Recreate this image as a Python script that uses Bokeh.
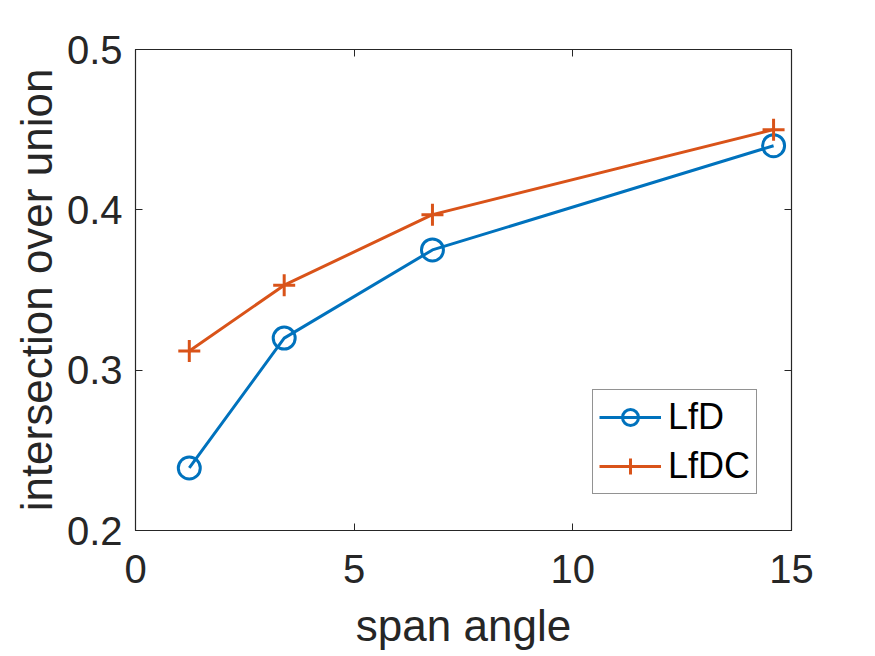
from bokeh.plotting import figure
from bokeh.models import Range1d, LinearAxis, FixedTicker, Legend, LegendItem, CustomJSTickFormatter
from bokeh.embed import file_html
from bokeh.resources import INLINE

span_angle = [1.23, 3.40, 6.79, 14.59]
lfd = [0.239, 0.320, 0.375, 0.440]
lfdc = [0.312, 0.353, 0.397, 0.450]
x_ticks = [0, 5, 10, 15]
y_ticks = [0.2, 0.3, 0.4, 0.5]

FONT = "Liberation Sans"
TXT = "#262626"

p = figure(width=875, height=656, output_backend="svg", toolbar_location=None,
           x_range=Range1d(0, 15), y_range=Range1d(0.2, 0.5),
           min_border_left=135, min_border_right=84, min_border_top=49, min_border_bottom=126)
p.xgrid.visible = False
p.ygrid.visible = False
p.outline_line_color = TXT
p.outline_line_width = 1.2

for ax in (p.xaxis[0], p.yaxis[0]):
    ax.major_tick_in = 7
    ax.major_tick_out = 0
    ax.minor_tick_line_color = None
    ax.axis_line_color = TXT
    ax.major_tick_line_color = TXT
    ax.major_label_text_font = FONT
    ax.major_label_text_font_size = "40px"
    ax.major_label_text_color = TXT
    ax.axis_label_text_font = FONT
    ax.axis_label_text_font_size = "44px"
    ax.axis_label_text_color = TXT
    ax.axis_label_text_font_style = "normal"

p.xaxis[0].ticker = FixedTicker(ticks=x_ticks)
p.yaxis[0].ticker = FixedTicker(ticks=y_ticks)
p.xaxis[0].axis_label = "span angle"
p.yaxis[0].axis_label = "intersection over union"
p.xaxis[0].major_label_standoff = 24
p.yaxis[0].major_label_standoff = 13
p.xaxis[0].axis_label_standoff = 15
p.yaxis[0].axis_label_standoff = 3

blank = CustomJSTickFormatter(code="return ''")
top = LinearAxis(ticker=FixedTicker(ticks=x_ticks), formatter=blank,
                 major_tick_in=7, major_tick_out=0, minor_tick_line_color=None,
                 axis_line_color=TXT, major_tick_line_color=TXT, major_label_standoff=0)
right = LinearAxis(ticker=FixedTicker(ticks=y_ticks), formatter=blank,
                   major_tick_in=7, major_tick_out=0, minor_tick_line_color=None,
                   axis_line_color=TXT, major_tick_line_color=TXT, major_label_standoff=0)
p.add_layout(top, "above")
p.add_layout(right, "right")

BLUE = "#0072BD"
ORANGE = "#D95319"

l1 = p.line(span_angle, lfd, line_color=BLUE, line_width=3)
m1 = p.scatter(span_angle, lfd, marker="circle", size=22, fill_color=None,
               line_color=BLUE, line_width=3)
l2 = p.line(span_angle, lfdc, line_color=ORANGE, line_width=3)
m2 = p.scatter(span_angle, lfdc, marker="cross", size=22,
               line_color=ORANGE, line_width=3)

legend = Legend(items=[LegendItem(label="LfD", renderers=[l1, m1]),
                       LegendItem(label="LfDC", renderers=[l2, m2])],
                location=(457, 36))
legend.label_text_font = FONT
legend.label_text_font_size = "36px"
legend.label_text_color = "#000000"
legend.glyph_width = 62
legend.glyph_height = 40
legend.label_height = 40
legend.label_standoff = 7
legend.spacing = 7
legend.padding = 6
legend.margin = 0
legend.border_line_color = TXT
legend.border_line_width = 1.2
legend.background_fill_color = "white"
p.add_layout(legend, "center")

open("out.html", "w").write(file_html(p, INLINE))
